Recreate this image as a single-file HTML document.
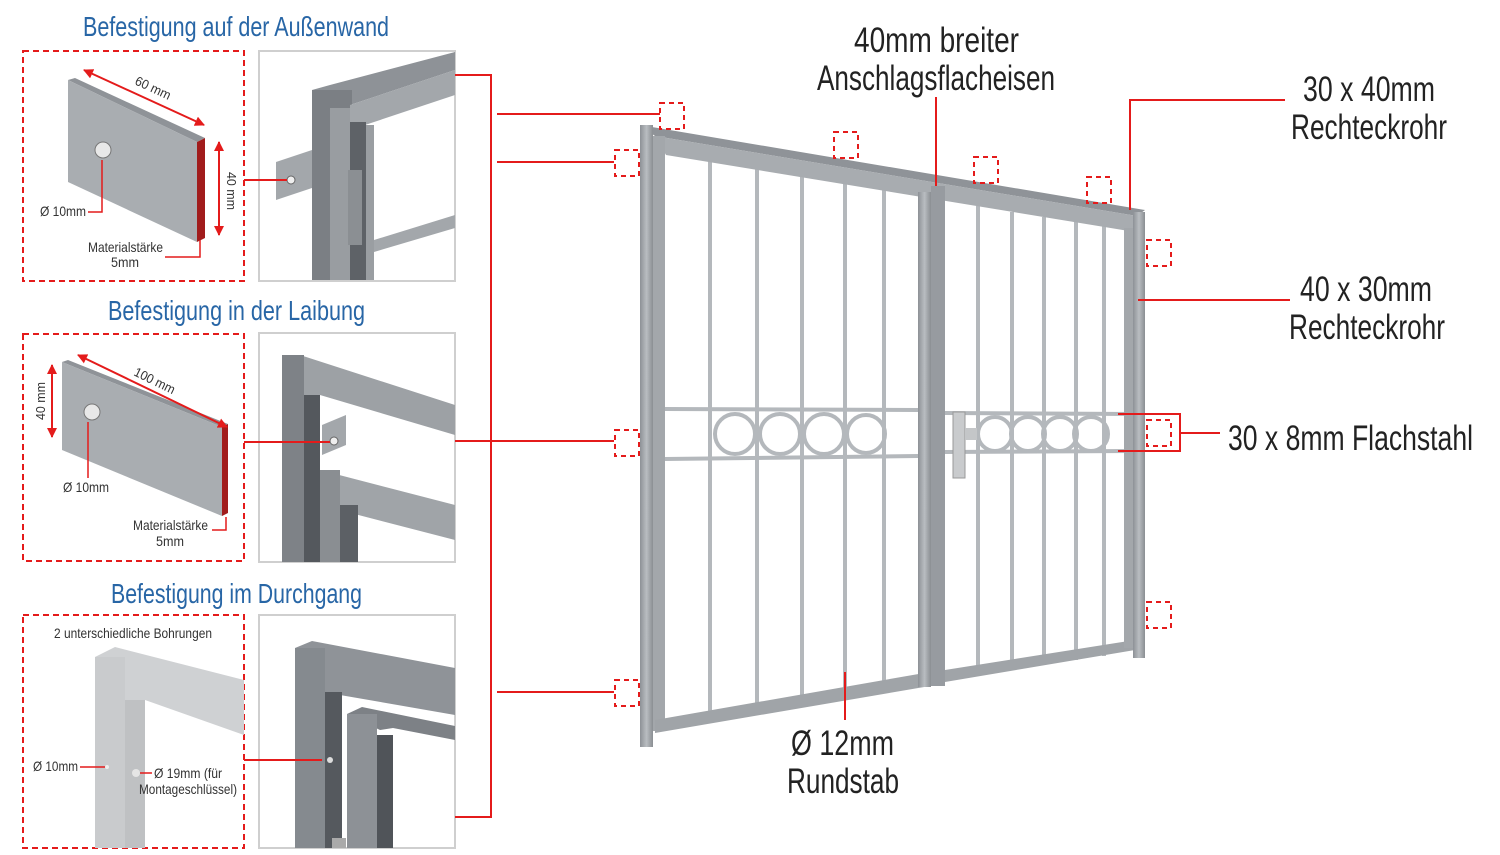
<!DOCTYPE html>
<html><head><meta charset="utf-8"><style>
html,body{margin:0;padding:0;background:#fff;width:1500px;height:855px;overflow:hidden}
svg{display:block}
.t{font-family:"Liberation Sans Narrow","Liberation Sans",sans-serif}
</style></head><body>
<svg width="1500" height="855" viewBox="0 0 1500 855" xmlns="http://www.w3.org/2000/svg">
<defs>
<marker id="ah" viewBox="0 0 10 10" refX="9" refY="5" markerWidth="5" markerHeight="5" orient="auto-start-reverse"><path d="M0,0L10,5L0,10z" fill="#e41b1b"/></marker>
<linearGradient id="gv" x1="0" x2="1"><stop offset="0" stop-color="#8d9196"/><stop offset=".5" stop-color="#b9bdc1"/><stop offset="1" stop-color="#8a8e92"/></linearGradient>
</defs>
<g class="t">
<!-- titles -->
<text x="83" y="36" font-size="28" fill="#2866a6" textLength="306" lengthAdjust="spacingAndGlyphs">Befestigung auf der Außenwand</text>
<text x="108" y="320" font-size="28" fill="#2866a6" textLength="257" lengthAdjust="spacingAndGlyphs">Befestigung in der Laibung</text>
<text x="111" y="603" font-size="28" fill="#2866a6" textLength="251" lengthAdjust="spacingAndGlyphs">Befestigung im Durchgang</text>

<!-- dashed boxes -->
<g fill="none" stroke="#e41b1b" stroke-width="2" stroke-dasharray="6,4">
<rect x="23" y="51" width="221" height="230"/>
<rect x="23" y="334" width="221" height="227"/>
<rect x="23" y="615" width="221" height="233"/>
</g>
<!-- photo boxes -->
<g fill="#fff" stroke="#cfcfcf" stroke-width="2">
<rect x="259" y="51" width="196" height="230"/>
<rect x="259" y="333" width="196" height="229"/>
<rect x="259" y="615" width="196" height="233"/>
</g>

<!-- Plate 1 -->
<polygon points="68,80 75,78 205,138 197,142" fill="#8f9398"/>
<polygon points="68,80 197,142 197,242 68,182" fill="#a9adb1"/>
<polygon points="197,142 205,138 205,238 197,242" fill="#a11c1c"/>
<circle cx="103" cy="150" r="8" fill="#e8e8e8" stroke="#777"/>
<line x1="84" y1="70" x2="204" y2="125" stroke="#e41b1b" stroke-width="2" marker-start="url(#ah)" marker-end="url(#ah)"/>
<text x="134" y="84" font-size="13" fill="#333" transform="rotate(25 134 84)" textLength="38" lengthAdjust="spacingAndGlyphs">60 mm</text>
<line x1="219" y1="142" x2="219" y2="235" stroke="#e41b1b" stroke-width="2" marker-start="url(#ah)" marker-end="url(#ah)"/>
<text x="227" y="172" font-size="13" fill="#333" transform="rotate(90 227 172)" textLength="38" lengthAdjust="spacingAndGlyphs">40 mm</text>
<polyline points="102,160 102,212 88,212" fill="none" stroke="#e41b1b" stroke-width="1.5"/>
<text x="40" y="216" font-size="14" fill="#333" textLength="46" lengthAdjust="spacingAndGlyphs">Ø 10mm</text>
<polyline points="200,240 200,257 165,257" fill="none" stroke="#e41b1b" stroke-width="1.5"/>
<text x="88" y="252" font-size="14" fill="#333" textLength="75" lengthAdjust="spacingAndGlyphs">Materialstärke</text>
<text x="111" y="267" font-size="14" fill="#333" textLength="28" lengthAdjust="spacingAndGlyphs">5mm</text>

<!-- photo 1 -->
<polygon points="312,90 330,85 455,52 455,70 350,105 330,112" fill="#8e9297"/>
<rect x="312" y="90" width="40" height="190" fill="#7b7f84"/>
<rect x="330" y="108" width="20" height="172" fill="#999da1"/>
<polygon points="350,105 455,70 455,95 365,125 350,125" fill="#a3a7ab"/>
<rect x="350" y="122" width="16" height="158" fill="#5e6267"/>
<rect x="366" y="125" width="8" height="155" fill="#9a9ea2"/>
<polygon points="374,240 455,215 455,228 374,252" fill="#a3a7ab"/>
<rect x="348" y="170" width="14" height="75" fill="#8b8f93"/>
<polygon points="276,162 312,150 312,188 276,200" fill="#a3a7ab"/>
<circle cx="291" cy="180" r="4" fill="#eee" stroke="#666"/>
<polyline points="244,180 287,180" fill="none" stroke="#e41b1b" stroke-width="2"/>

<!-- Plate 2 -->
<polygon points="62,362 68,360 228,424 222,427" fill="#8f9398"/>
<polygon points="62,362 222,427 222,516 62,450" fill="#a9adb1"/>
<polygon points="222,427 228,424 228,513 222,516" fill="#a11c1c"/>
<circle cx="92" cy="412" r="8" fill="#e8e8e8" stroke="#777"/>
<line x1="78" y1="355" x2="227" y2="427" stroke="#e41b1b" stroke-width="2" marker-start="url(#ah)" marker-end="url(#ah)"/>
<text x="133" y="375" font-size="13" fill="#333" transform="rotate(26 133 375)" textLength="44" lengthAdjust="spacingAndGlyphs">100 mm</text>
<line x1="52" y1="365" x2="52" y2="437" stroke="#e41b1b" stroke-width="2" marker-start="url(#ah)" marker-end="url(#ah)"/>
<text x="45" y="420" font-size="13" fill="#333" transform="rotate(-90 45 420)" textLength="38" lengthAdjust="spacingAndGlyphs">40 mm</text>
<line x1="88" y1="422" x2="88" y2="478" stroke="#e41b1b" stroke-width="1.5"/>
<text x="63" y="492" font-size="14" fill="#333" textLength="46" lengthAdjust="spacingAndGlyphs">Ø 10mm</text>
<polyline points="226,517 226,530 212,530" fill="none" stroke="#e41b1b" stroke-width="1.5"/>
<text x="133" y="530" font-size="14" fill="#333" textLength="75" lengthAdjust="spacingAndGlyphs">Materialstärke</text>
<text x="156" y="546" font-size="14" fill="#333" textLength="28" lengthAdjust="spacingAndGlyphs">5mm</text>

<!-- photo 2 -->
<polygon points="282,355 300,355 455,405 455,435 320,395 300,395" fill="#9da1a5"/>
<rect x="282" y="355" width="22" height="207" fill="#7e8287"/>
<rect x="304" y="395" width="16" height="167" fill="#54585d"/>
<polygon points="320,470 455,505 455,540 320,505" fill="#a0a4a8"/>
<rect x="320" y="470" width="20" height="92" fill="#8a8e92"/>
<rect x="340" y="505" width="18" height="57" fill="#5c6065"/>
<polygon points="322,425 346,415 346,445 322,455" fill="#a3a7ab"/>
<circle cx="334" cy="441" r="4" fill="#eee" stroke="#666"/>
<line x1="244" y1="442" x2="330" y2="442" stroke="#e41b1b" stroke-width="2"/>

<!-- Panel 3 profile -->
<polygon points="95,657 115,647 244,680 244,735 145,700 125,708" fill="#cfd1d3"/>
<rect x="95" y="657" width="30" height="191" fill="#c9cbcd"/>
<rect x="125" y="700" width="20" height="148" fill="#bfc1c3"/>
<text x="54" y="638" font-size="14" fill="#333" textLength="158" lengthAdjust="spacingAndGlyphs">2 unterschiedliche Bohrungen</text>
<text x="33" y="771" font-size="14" fill="#333" textLength="45" lengthAdjust="spacingAndGlyphs">Ø 10mm</text>
<line x1="80" y1="767" x2="106" y2="767" stroke="#e41b1b" stroke-width="1.5"/>
<circle cx="107" cy="767" r="2" fill="#eee"/>
<circle cx="136" cy="773" r="4" fill="#e5e5e5"/>
<line x1="140" y1="773" x2="152" y2="773" stroke="#e41b1b" stroke-width="1.5"/>
<text x="154" y="778" font-size="14" fill="#333" textLength="68" lengthAdjust="spacingAndGlyphs">Ø 19mm (für</text>
<text x="139" y="794" font-size="14" fill="#333" textLength="98" lengthAdjust="spacingAndGlyphs">Montageschlüssel)</text>

<!-- photo 3 -->
<polygon points="295,648 312,641 455,668 455,715 340,695 325,695" fill="#8f9398"/>
<rect x="295" y="648" width="30" height="200" fill="#858a8f"/>
<rect x="325" y="692" width="17" height="156" fill="#55595e"/>
<polygon points="347,714 362,707 455,726 455,740 393,728 380,730" fill="#7d8186"/>
<rect x="347" y="714" width="30" height="134" fill="#8d9196"/>
<rect x="377" y="735" width="16" height="113" fill="#505459"/>
<rect x="332" y="838" width="14" height="10" fill="#aaa"/>
<circle cx="330" cy="760" r="3" fill="#ddd"/>
<line x1="244" y1="760" x2="322" y2="760" stroke="#e41b1b" stroke-width="2"/>

<!-- bracket -->
<polyline points="455,75 491,75 491,817 455,817" fill="none" stroke="#e41b1b" stroke-width="2"/>
<line x1="455" y1="441" x2="614" y2="441" stroke="#e41b1b" stroke-width="2"/>
<line x1="497" y1="114" x2="660" y2="114" stroke="#e41b1b" stroke-width="2"/>
<line x1="497" y1="162" x2="614" y2="162" stroke="#e41b1b" stroke-width="2"/>
<line x1="497" y1="692" x2="614" y2="692" stroke="#e41b1b" stroke-width="2"/>

<!-- GATE -->
<g stroke="#b4b8bc" stroke-width="4">
<line x1="710" y1="160" x2="710" y2="722"/><line x1="757" y1="168" x2="757" y2="714"/>
<line x1="802" y1="176" x2="802" y2="706"/><line x1="845" y1="183" x2="845" y2="698"/>
<line x1="884" y1="190" x2="884" y2="692"/>
<line x1="978" y1="206" x2="978" y2="673"/><line x1="1012" y1="212" x2="1012" y2="668"/>
<line x1="1044" y1="217" x2="1044" y2="664"/><line x1="1076" y1="222" x2="1076" y2="660"/>
<line x1="1104" y1="226" x2="1104" y2="656"/>
</g>
<g stroke="#b4b8bc" stroke-width="4" fill="none">
<line x1="665" y1="409" x2="918" y2="410"/><line x1="665" y1="459" x2="918" y2="456"/>
<line x1="945" y1="413" x2="1133" y2="414"/><line x1="945" y1="452" x2="1133" y2="451"/>
<circle cx="735" cy="434" r="20"/><circle cx="780" cy="434" r="20"/><circle cx="824" cy="434" r="20"/><circle cx="866" cy="434" r="19"/>
<circle cx="995" cy="434" r="17"/><circle cx="1028" cy="434" r="17"/><circle cx="1060" cy="434" r="17"/><circle cx="1091" cy="434" r="17"/>
</g>
<polygon points="640,125 1145,210 1137,216 655,136" fill="#8f9398"/>
<polygon points="655,136 1137,216 1135,232 666,155" fill="#a8acb0"/>
<rect x="640" y="125" width="13" height="622" fill="url(#gv)"/>
<rect x="653" y="136" width="12" height="595" fill="#a3a7ab"/>
<polygon points="655,720 930,672 930,686 655,733" fill="#a0a4a8"/>
<polygon points="945,670 1135,640 1135,650 945,682" fill="#a0a4a8"/>
<rect x="918" y="192" width="13" height="495" fill="url(#gv)"/>
<rect x="931" y="186" width="14" height="500" fill="#979ba0"/>
<rect x="1133" y="212" width="12" height="446" fill="url(#gv)"/>
<rect x="1124" y="228" width="9" height="420" fill="#a3a7ab"/>
<rect x="953" y="412" width="12" height="66" fill="#c9cbcd" stroke="#999"/>
<rect x="965" y="428" width="12" height="12" fill="#c4c6c8"/>

<g fill="none" stroke="#e41b1b" stroke-width="2" stroke-dasharray="5,4">
<rect x="660" y="103" width="24" height="26"/><rect x="615" y="150" width="24" height="26"/>
<rect x="834" y="132" width="24" height="26"/><rect x="974" y="157" width="24" height="26"/>
<rect x="1087" y="177" width="24" height="26"/><rect x="1147" y="240" width="24" height="26"/>
<rect x="615" y="430" width="24" height="26"/><rect x="1147" y="420" width="24" height="26"/>
<rect x="615" y="680" width="24" height="26"/><rect x="1147" y="602" width="24" height="26"/>
</g>

<g stroke="#e41b1b" stroke-width="2" fill="none">
<line x1="936" y1="97" x2="936" y2="186"/>
<polyline points="1285,100 1130,100 1130,210"/>
<line x1="1138" y1="300" x2="1290" y2="300"/>
<polyline points="1118,414 1180,414 1180,451 1118,451"/>
<line x1="1180" y1="433" x2="1220" y2="433"/>
<line x1="845" y1="672" x2="845" y2="720"/>
</g>
<g font-size="35" fill="#222">
<text x="854" y="52" textLength="165" lengthAdjust="spacingAndGlyphs">40mm breiter</text>
<text x="817" y="90" textLength="238" lengthAdjust="spacingAndGlyphs">Anschlagsflacheisen</text>
<text x="1303" y="101" textLength="132" lengthAdjust="spacingAndGlyphs">30 x 40mm</text>
<text x="1291" y="139" textLength="156" lengthAdjust="spacingAndGlyphs">Rechteckrohr</text>
<text x="1300" y="301" textLength="132" lengthAdjust="spacingAndGlyphs">40 x 30mm</text>
<text x="1289" y="339" textLength="156" lengthAdjust="spacingAndGlyphs">Rechteckrohr</text>
<text x="1228" y="450" textLength="245" lengthAdjust="spacingAndGlyphs">30 x 8mm Flachstahl</text>
<text x="791" y="755" textLength="103" lengthAdjust="spacingAndGlyphs">Ø 12mm</text>
<text x="787" y="793" textLength="112" lengthAdjust="spacingAndGlyphs">Rundstab</text>
</g>
</g>
</svg>
</body></html>
